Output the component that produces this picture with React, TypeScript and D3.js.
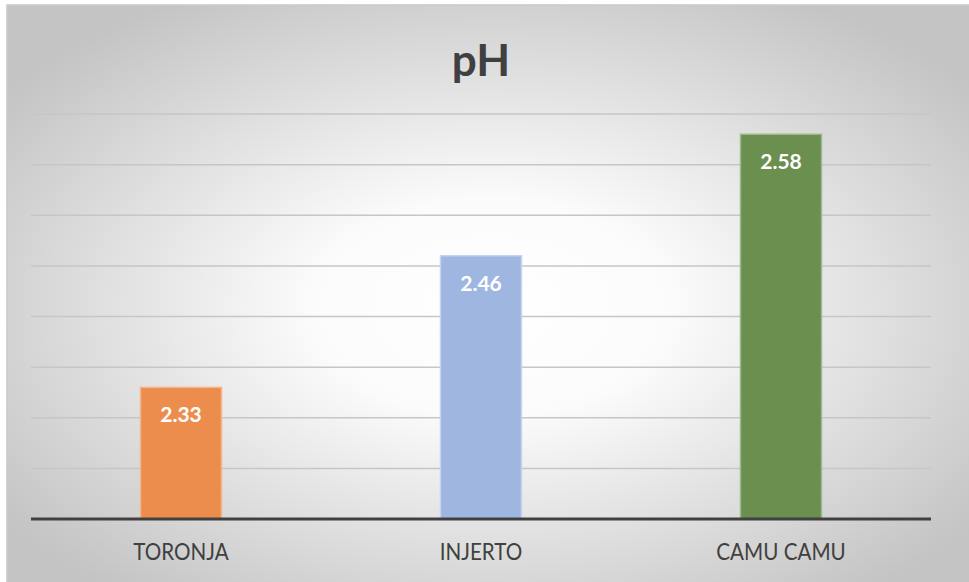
import * as d3 from "d3";

const categories = ["TORONJA", "INJERTO", "CAMU CAMU"];
const phValues = [2.33, 2.46, 2.58];
const barColors = ["#ED8D4D", "#9FB6E1", "#6A8F4F"];
const barEdges = ["#F4B68A", "#C5D4EE", "#9DB98A"];
const gridTicks = [2.2, 2.25, 2.3, 2.35, 2.4, 2.45, 2.5, 2.55, 2.6];

const W = 969;
const H = 582;
const plot = { left: 31, right: 931, top: 114, bottom: 519 };

export default function App() {
  const x = d3
    .scaleBand<string>()
    .domain(categories)
    .range([plot.left, plot.right])
    .padding(0);
  const y = d3.scaleLinear().domain([2.2, 2.6]).range([plot.bottom, plot.top]);
  const barW = x.bandwidth() * 0.27;

  return (
    <svg
      width={W}
      height={H}
      style={{ position: "absolute", left: 0, top: 0 }}
      fontFamily="Lato, 'Open Sans', sans-serif"
    >
      <defs>
        <radialGradient id="bg" cx="50%" cy="52%" r="62%">
          <stop offset="0%" stopColor="#ffffff" />
          <stop offset="30%" stopColor="#fbfbfb" />
          <stop offset="100%" stopColor="#c4c4c4" />
        </radialGradient>
      </defs>
      <rect x={0} y={0} width={W} height={H} fill="#fff" />
      <rect x={7} y={5} width={W} height={H} fill="url(#bg)" stroke="#c9c9c9" strokeWidth={1.5} />

      <text x={481} y={76} textAnchor="middle" fontSize={44} fontWeight="bold" fill="#404040">
        pH
      </text>

      {gridTicks.slice(1).map((t) => (
        <line key={t} x1={plot.left} x2={plot.right} y1={y(t)} y2={y(t)} stroke="#c6c6c6" strokeWidth={1.5} />
      ))}

      {categories.map((c, i) => {
        const cx = x(c)! + x.bandwidth() / 2;
        const top = y(phValues[i]);
        return (
          <g key={c}>
            <rect
              x={cx - barW / 2}
              y={top}
              width={barW}
              height={plot.bottom - top}
              fill={barColors[i]}
              stroke={barEdges[i]}
              strokeWidth={1.5}
            />
            <text x={cx} y={top + 35} textAnchor="middle" fontSize={21} fontWeight="bold" fill="#fff">
              {phValues[i].toFixed(2)}
            </text>
            <g transform={`translate(${cx},560) scale(0.86,1)`}>
              <text x={0} y={0} textAnchor="middle" fontSize={24} fill="#404040">
                {c}
              </text>
            </g>
          </g>
        );
      })}

      <line x1={plot.left} x2={plot.right} y1={plot.bottom} y2={plot.bottom} stroke="#404040" strokeWidth={3} />
    </svg>
  );
}
